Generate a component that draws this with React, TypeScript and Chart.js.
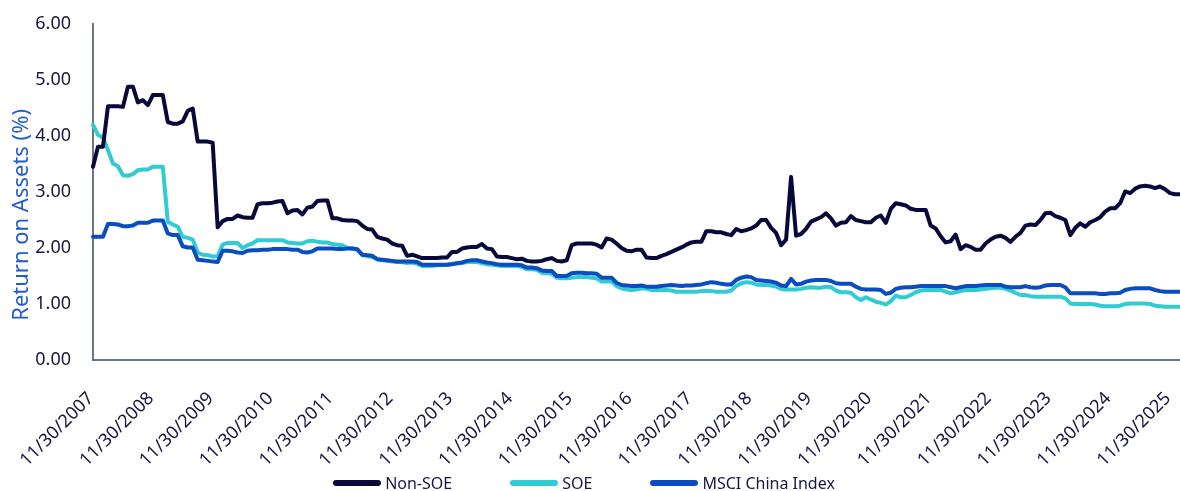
import React, { useEffect, useRef } from "react";
import { Chart, registerables } from "chart.js";

Chart.register(...registerables);

// ---------- data ----------
const FIRST_YEAR = 2007;
const FIRST_MONTH = 11; // November
const MONTH_COUNT = 219;
const LABEL_STEP = 12;

// month-end dates, 11/30/2007 onwards
const categories: string[] = Array.from({ length: MONTH_COUNT }, (_, k) => {
  const m0 = FIRST_MONTH - 1 + k;
  const y = FIRST_YEAR + Math.floor(m0 / 12);
  const m = m0 % 12;
  const d = new Date(y, m + 1, 0).getDate();
  return `${m + 1}/${d}/${y}`;
});

const seriesNames = ["Non-SOE", "SOE", "MSCI China Index"];

const nonSOE = [
  3.45, 3.81, 3.81, 4.53, 4.53, 4.53, 4.52, 4.88, 4.88, 4.60, 4.64, 4.55,
  4.73, 4.73, 4.73, 4.25, 4.22, 4.22, 4.26, 4.45, 4.49, 3.90, 3.90, 3.90,
  3.88, 2.37, 2.48, 2.52, 2.52, 2.58, 2.55, 2.54, 2.54, 2.78, 2.80, 2.80,
  2.81, 2.83, 2.84, 2.62, 2.67, 2.68, 2.60, 2.72, 2.74, 2.84, 2.85, 2.85,
  2.53, 2.53, 2.50, 2.49, 2.49, 2.48, 2.40, 2.34, 2.33, 2.20, 2.17, 2.15,
  2.08, 2.05, 2.04, 1.86, 1.88, 1.85, 1.82, 1.82, 1.82, 1.82, 1.83, 1.83,
  1.93, 1.93, 1.99, 2.01, 2.02, 2.02, 2.07, 1.99, 1.98, 1.85, 1.84, 1.84,
  1.82, 1.80, 1.81, 1.77, 1.76, 1.76, 1.77, 1.80, 1.82, 1.77, 1.76, 1.78,
  2.05, 2.08, 2.08, 2.08, 2.08, 2.06, 2.01, 2.17, 2.15, 2.08, 2.00, 1.95,
  1.94, 1.97, 1.97, 1.83, 1.82, 1.82, 1.86, 1.89, 1.93, 1.97, 2.01, 2.06,
  2.10, 2.11, 2.11, 2.30, 2.30, 2.28, 2.28, 2.25, 2.23, 2.34, 2.30, 2.32,
  2.35, 2.40, 2.50, 2.50, 2.36, 2.27, 2.05, 2.15, 3.27, 2.22, 2.25, 2.34,
  2.47, 2.51, 2.55, 2.62, 2.53, 2.40, 2.45, 2.46, 2.57, 2.50, 2.48, 2.46,
  2.46, 2.54, 2.58, 2.45, 2.70, 2.80, 2.78, 2.76, 2.70, 2.68, 2.68, 2.68,
  2.40, 2.35, 2.21, 2.10, 2.12, 2.24, 1.98, 2.05, 2.02, 1.97, 1.97, 2.08,
  2.15, 2.20, 2.22, 2.18, 2.11, 2.20, 2.27, 2.40, 2.42, 2.41, 2.50, 2.62,
  2.63, 2.57, 2.54, 2.50, 2.23, 2.36, 2.44, 2.38, 2.46, 2.50, 2.55, 2.65,
  2.71, 2.71, 2.80, 3.01, 2.98, 3.06, 3.10, 3.11, 3.10, 3.07, 3.10, 3.05,
  2.98, 2.96, 2.96,
];

const soe = [
  4.20, 4.02, 3.97, 3.75, 3.51, 3.46, 3.30, 3.29, 3.32, 3.39, 3.40, 3.40,
  3.45, 3.45, 3.45, 2.47, 2.42, 2.38, 2.20, 2.18, 2.15, 1.92, 1.88, 1.87,
  1.85, 1.85, 2.06, 2.09, 2.09, 2.09, 2.00, 2.05, 2.08, 2.14, 2.14, 2.14,
  2.14, 2.14, 2.14, 2.10, 2.09, 2.08, 2.08, 2.12, 2.13, 2.11, 2.10, 2.10,
  2.07, 2.06, 2.05, 2.00, 1.99, 1.97, 1.87, 1.86, 1.84, 1.80, 1.78, 1.77,
  1.76, 1.75, 1.75, 1.73, 1.74, 1.72, 1.68, 1.68, 1.68, 1.69, 1.69, 1.70,
  1.72, 1.72, 1.73, 1.75, 1.75, 1.75, 1.73, 1.71, 1.70, 1.69, 1.68, 1.68,
  1.68, 1.68, 1.66, 1.62, 1.62, 1.61, 1.56, 1.55, 1.54, 1.47, 1.46, 1.46,
  1.47, 1.48, 1.48, 1.48, 1.47, 1.46, 1.40, 1.40, 1.40, 1.32, 1.28, 1.26,
  1.25, 1.26, 1.28, 1.27, 1.25, 1.25, 1.25, 1.25, 1.24, 1.22, 1.22, 1.22,
  1.22, 1.22, 1.23, 1.23, 1.23, 1.22, 1.22, 1.22, 1.24, 1.32, 1.37, 1.39,
  1.38, 1.35, 1.34, 1.34, 1.33, 1.31, 1.27, 1.26, 1.26, 1.26, 1.27, 1.29,
  1.30, 1.29, 1.29, 1.31, 1.30, 1.24, 1.21, 1.21, 1.20, 1.12, 1.07, 1.12,
  1.08, 1.04, 1.02, 0.99, 1.05, 1.15, 1.12, 1.12, 1.16, 1.21, 1.24, 1.25,
  1.25, 1.25, 1.25, 1.22, 1.19, 1.21, 1.23, 1.25, 1.25, 1.25, 1.26, 1.27,
  1.28, 1.29, 1.29, 1.27, 1.24, 1.20, 1.16, 1.16, 1.14, 1.13, 1.13, 1.13,
  1.13, 1.13, 1.13, 1.10, 1.01, 1.00, 1.00, 1.00, 1.00, 0.99, 0.97, 0.96,
  0.96, 0.96, 0.97, 1.00, 1.01, 1.01, 1.01, 1.01, 1.00, 0.97, 0.96, 0.95,
  0.95, 0.95, 0.95,
];

const msciChina = [
  2.20, 2.20, 2.20, 2.43, 2.43, 2.42, 2.39, 2.39, 2.40, 2.45, 2.45, 2.45,
  2.49, 2.49, 2.49, 2.26, 2.23, 2.23, 2.03, 2.01, 2.01, 1.79, 1.78, 1.77,
  1.76, 1.75, 1.95, 1.95, 1.94, 1.92, 1.91, 1.95, 1.96, 1.96, 1.97, 1.97,
  1.98, 1.98, 1.98, 1.98, 1.97, 1.97, 1.93, 1.92, 1.94, 1.99, 1.99, 1.99,
  1.99, 1.98, 1.98, 1.99, 1.99, 1.98, 1.88, 1.87, 1.86, 1.80, 1.79, 1.78,
  1.77, 1.76, 1.76, 1.76, 1.76, 1.75, 1.70, 1.70, 1.70, 1.70, 1.70, 1.70,
  1.71, 1.73, 1.74, 1.77, 1.78, 1.78, 1.76, 1.74, 1.73, 1.71, 1.70, 1.70,
  1.70, 1.70, 1.69, 1.65, 1.65, 1.64, 1.60, 1.59, 1.59, 1.50, 1.50, 1.50,
  1.55, 1.56, 1.56, 1.55, 1.55, 1.54, 1.47, 1.47, 1.47, 1.38, 1.34, 1.33,
  1.32, 1.32, 1.33, 1.31, 1.31, 1.31, 1.32, 1.33, 1.34, 1.33, 1.32, 1.33,
  1.33, 1.34, 1.35, 1.37, 1.39, 1.38, 1.36, 1.35, 1.35, 1.43, 1.47, 1.49,
  1.48, 1.43, 1.42, 1.41, 1.40, 1.38, 1.33, 1.32, 1.45, 1.35, 1.36, 1.40,
  1.42, 1.43, 1.43, 1.43, 1.41, 1.37, 1.36, 1.36, 1.36, 1.31, 1.27, 1.26,
  1.26, 1.26, 1.25, 1.18, 1.20, 1.27, 1.29, 1.30, 1.30, 1.31, 1.32, 1.32,
  1.32, 1.32, 1.32, 1.32, 1.30, 1.28, 1.30, 1.32, 1.32, 1.32, 1.33, 1.34,
  1.34, 1.34, 1.34, 1.31, 1.30, 1.30, 1.30, 1.32, 1.30, 1.29, 1.30, 1.33,
  1.34, 1.34, 1.34, 1.30, 1.19, 1.19, 1.19, 1.19, 1.19, 1.19, 1.18, 1.18,
  1.19, 1.19, 1.20, 1.25, 1.27, 1.28, 1.28, 1.28, 1.28, 1.25, 1.23, 1.22,
  1.22, 1.22, 1.22,
];

const Y_MIN = 0;
const Y_MAX = 6;
const Y_STEP = 1;
const Y_TITLE = "Return on Assets (%)";

// ---------- styles ----------
const FONT = "'Noto Sans', 'Open Sans', sans-serif";
const COLORS = ["#08083a", "#30cbd3", "#0b4dc1"];
const TEXT_COLOR = "#17173f";
const TITLE_COLOR = "#1f5ccf";
const AXIS_COLOR = "#6b7580";
const W = 1180;
const H = 491;

// draws the y-axis title beside the axis (slightly below the axis centre, as in the source)
const yTitlePlugin = {
  id: "yTitleText",
  afterDraw(chart: any) {
    const { ctx, chartArea } = chart;
    ctx.save();
    ctx.font = `22px ${FONT}`;
    ctx.fillStyle = TITLE_COLOR;
    ctx.textAlign = "center";
    ctx.textBaseline = "middle";
    const cy = chartArea.top + (chartArea.bottom - chartArea.top) * 0.568;
    ctx.translate(chartArea.left - 71, cy);
    ctx.rotate(-Math.PI / 2);
    ctx.fillText(Y_TITLE, 0, 0);
    ctx.restore();
  },
};

export default function App() {
  const canvasRef = useRef<HTMLCanvasElement | null>(null);

  useEffect(() => {
    if (!canvasRef.current) return;
    const seriesData = [nonSOE, soe, msciChina];
    const drawOrder = [0, 2, 1];
    const chart = new Chart(canvasRef.current, {
      type: "line",
      data: {
        labels: categories,
        datasets: seriesNames.map((name, k) => ({
          label: name,
          data: seriesData[k],
          borderColor: COLORS[k],
          backgroundColor: COLORS[k],
          borderWidth: 4,
          pointRadius: 0,
          tension: 0,
          fill: false,
          order: drawOrder[k],
          borderCapStyle: "round" as const,
          borderJoinStyle: "round" as const,
        })),
      },
      plugins: [yTitlePlugin],
      options: {
        animation: false,
        responsive: true,
        maintainAspectRatio: false,
        events: [],
        layout: { padding: { top: 24, right: 0, bottom: 0, left: 0 } },
        plugins: {
          legend: { display: false },
          tooltip: { enabled: false },
        },
        scales: {
          x: {
            type: "category",
            grid: { display: false, drawTicks: false },
            border: { display: true, color: AXIS_COLOR, width: 2 },
            ticks: {
              autoSkip: false,
              minRotation: 45,
              maxRotation: 45,
              padding: 28,
              labelOffset: -2,
              color: TEXT_COLOR,
              font: { family: FONT, size: 18 },
              callback: (_v: any, i: number) =>
                i % LABEL_STEP === 0 ? categories[i] : "",
            },
            afterFit: (s: any) => {
              s.height = 131;
              s.paddingLeft = 0;
              s.paddingRight = 0;
            },
          },
          y: {
            min: Y_MIN,
            max: Y_MAX,
            grid: { display: false, drawTicks: false },
            border: { display: true, color: AXIS_COLOR, width: 2 },
            ticks: {
              stepSize: Y_STEP,
              padding: 22,
              color: TEXT_COLOR,
              font: { family: FONT, size: 18 },
              callback: (v: any) => Number(v).toFixed(2),
            },
            afterFit: (s: any) => {
              s.width = 93;
              s.paddingTop = 0;
              s.paddingBottom = 0;
            },
          },
        },
      },
    });
    return () => chart.destroy();
  }, []);

  return (
    <div
      style={{
        position: "fixed",
        left: 0,
        top: 0,
        width: W,
        height: H,
        background: "#ffffff",
      }}
    >
      <canvas ref={canvasRef} width={W} height={H} />
      <div
        style={{
          position: "absolute",
          left: 0,
          top: 471,
          width: W,
          height: 24,
          display: "flex",
          justifyContent: "center",
          alignItems: "center",
          gap: 58,
          paddingRight: 12,
          boxSizing: "border-box",
          fontFamily: FONT,
          fontSize: 16,
          color: TEXT_COLOR,
        }}
      >
        {seriesNames.map((name, k) => (
          <div key={name} style={{ display: "flex", alignItems: "center" }}>
            <span
              style={{
                display: "inline-block",
                width: 48,
                height: 6,
                borderRadius: 3,
                background: COLORS[k],
                marginRight: 4,
              }}
            />
            <span>{name}</span>
          </div>
        ))}
      </div>
    </div>
  );
}
